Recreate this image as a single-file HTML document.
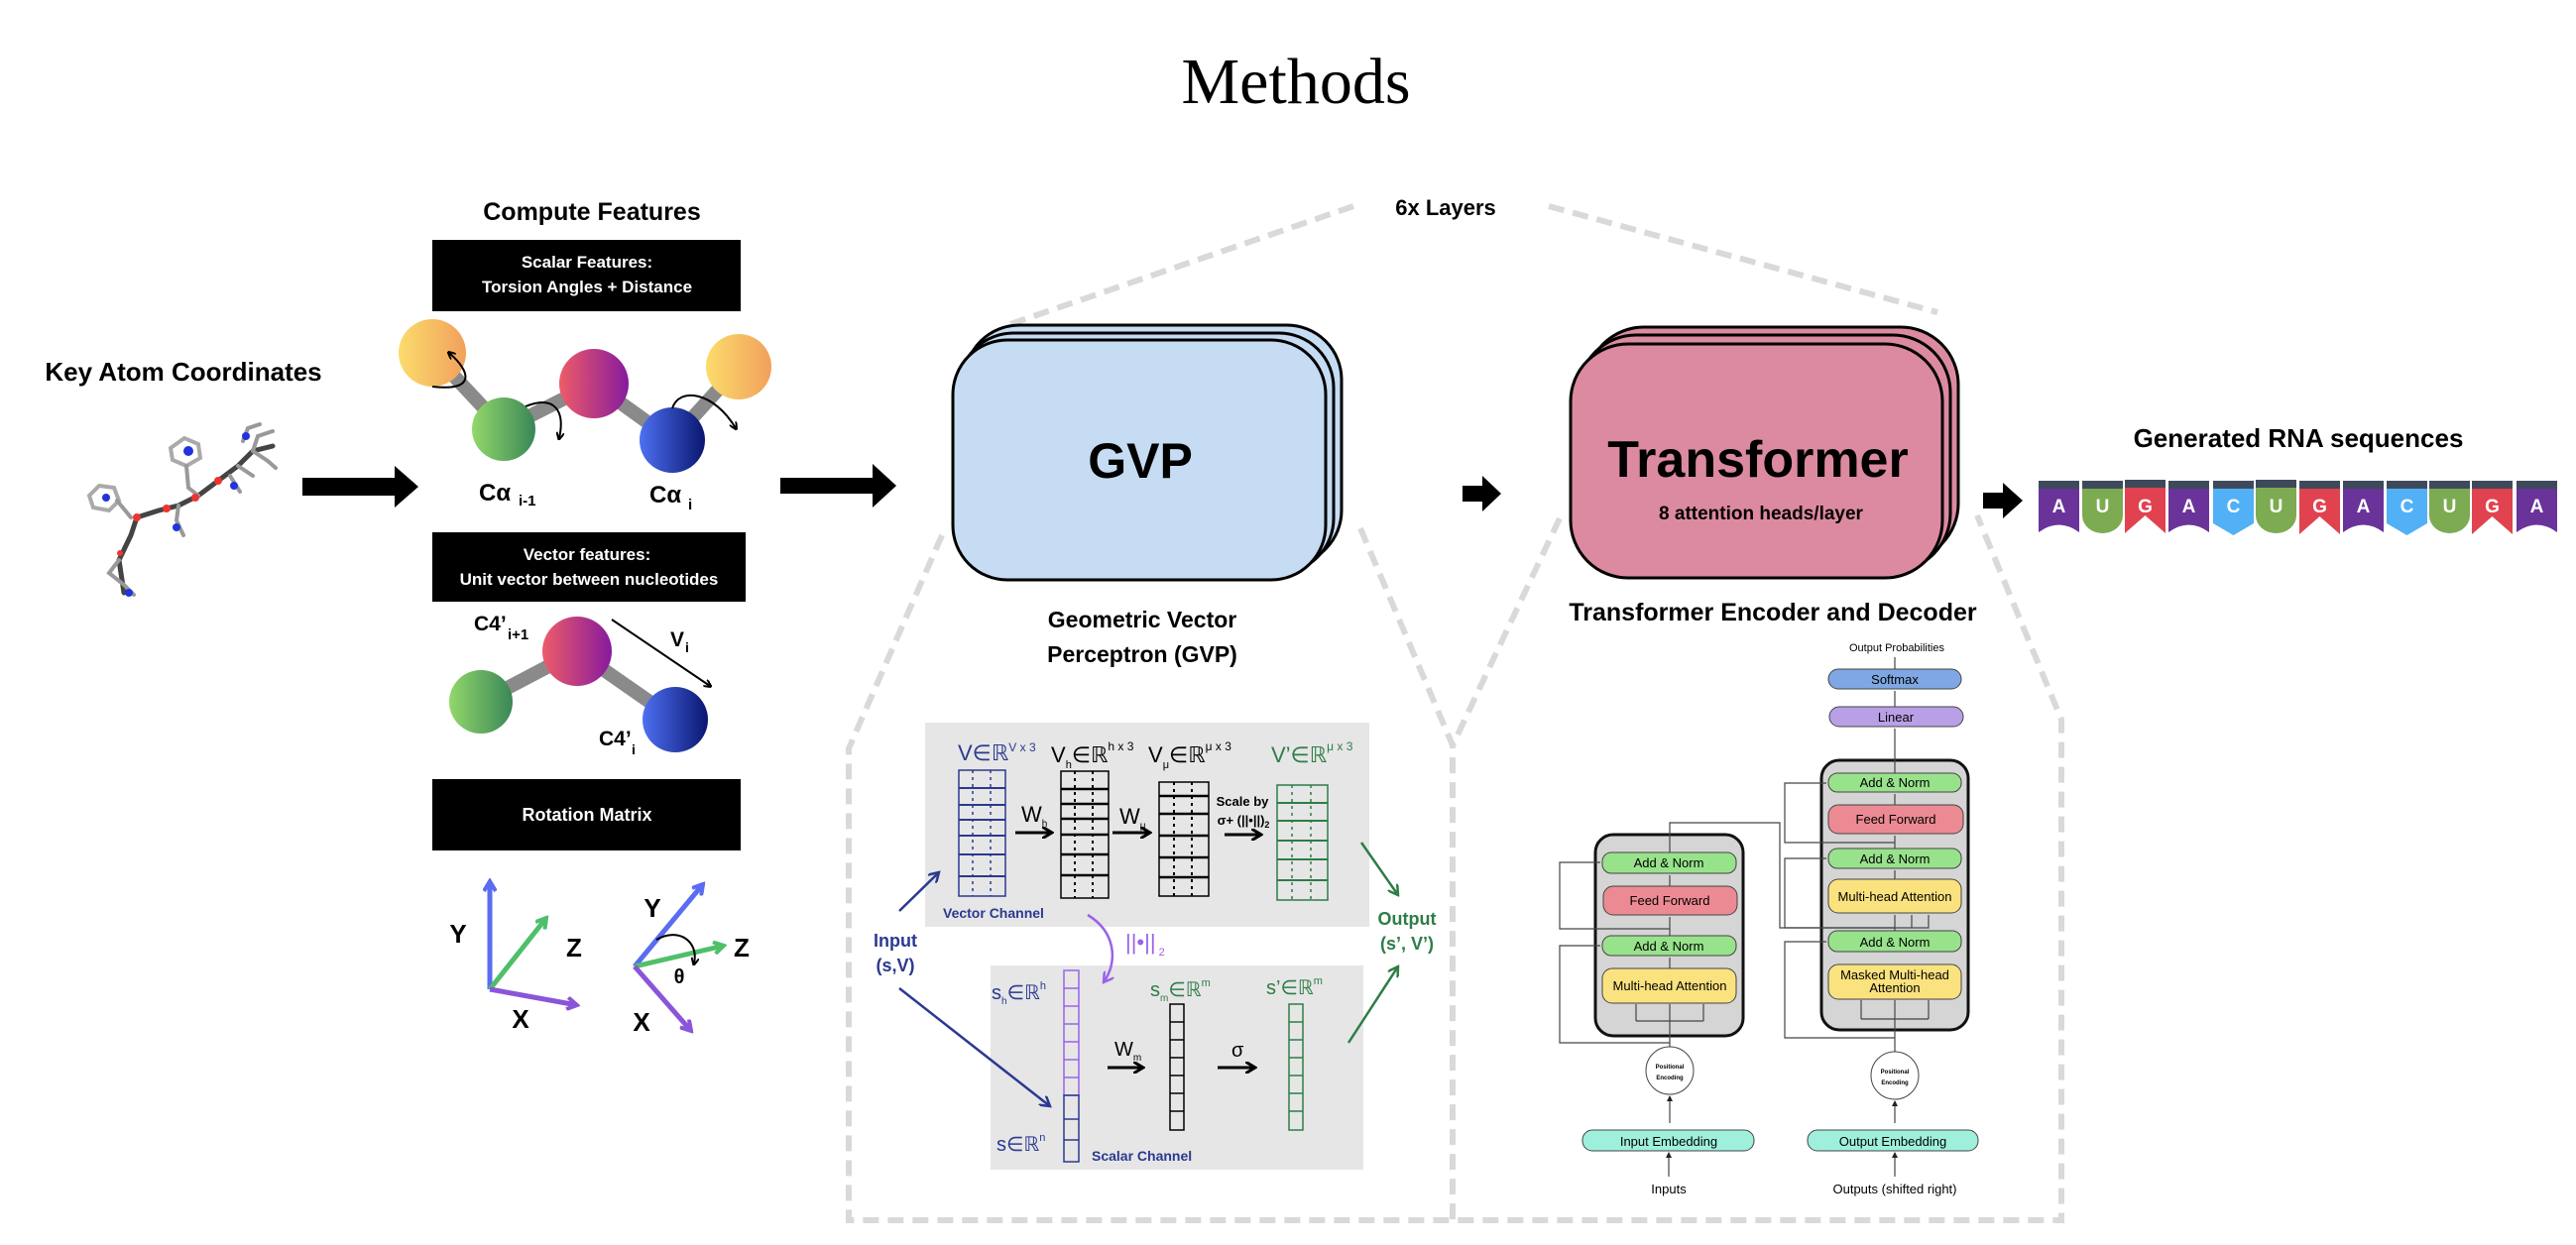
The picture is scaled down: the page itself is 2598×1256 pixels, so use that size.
<!DOCTYPE html>
<html><head><meta charset="utf-8"><style>
html,body{margin:0;padding:0;background:#fff}
svg{display:block}
text{font-family:"Liberation Sans",sans-serif}
.b{font-weight:bold}
.serif{font-family:"Liberation Serif",serif}
</style></head><body>
<svg width="2598" height="1256" viewBox="0 0 2598 1256" xmlns="http://www.w3.org/2000/svg">
<defs>
<linearGradient id="gO" x1="0" x2="1"><stop offset="0" stop-color="#fbdc6c"/><stop offset="1" stop-color="#f2a05c"/></linearGradient>
<linearGradient id="gG" x1="0" x2="1"><stop offset="0" stop-color="#92d86a"/><stop offset="1" stop-color="#3a8658"/></linearGradient>
<linearGradient id="gM" x1="0" x2="1"><stop offset="0" stop-color="#ee5c68"/><stop offset="1" stop-color="#861a9e"/></linearGradient>
<linearGradient id="gB" x1="0" x2="1"><stop offset="0" stop-color="#4e70f2"/><stop offset="1" stop-color="#0a1670"/></linearGradient>
<marker id="ah" markerWidth="8" markerHeight="8" refX="6" refY="4" orient="auto" markerUnits="userSpaceOnUse"><path d="M0,0 L8,4 L0,8" fill="none" stroke="#000" stroke-width="2"/></marker>
<marker id="ahn" markerWidth="12" markerHeight="12" refX="10" refY="6" orient="auto" markerUnits="userSpaceOnUse"><path d="M0,0 L10,6 L0,12" fill="none" stroke="#2b3990" stroke-width="2.5"/></marker>
<marker id="ahg" markerWidth="12" markerHeight="12" refX="10" refY="6" orient="auto" markerUnits="userSpaceOnUse"><path d="M0,0 L10,6 L0,12" fill="none" stroke="#2e7d46" stroke-width="2.5"/></marker>
<marker id="ahp" markerWidth="12" markerHeight="12" refX="10" refY="6" orient="auto" markerUnits="userSpaceOnUse"><path d="M0,0 L10,6 L0,12" fill="none" stroke="#9a63e8" stroke-width="2.5"/></marker>
<marker id="ahk" markerWidth="12" markerHeight="12" refX="10" refY="6" orient="auto" markerUnits="userSpaceOnUse"><path d="M0,0 L10,6 L0,12" fill="none" stroke="#000" stroke-width="3"/></marker>
<marker id="ta" markerWidth="6" markerHeight="6" refX="5" refY="3" orient="auto" markerUnits="userSpaceOnUse"><path d="M0,0 L6,3 L0,6z" fill="#222"/></marker>
<marker id="axB" markerWidth="14" markerHeight="14" refX="11" refY="7" orient="auto" markerUnits="userSpaceOnUse"><path d="M1,1 L11,7 L1,13" fill="none" stroke="#5a6cf2" stroke-width="4"/></marker>
<marker id="axG" markerWidth="14" markerHeight="14" refX="11" refY="7" orient="auto" markerUnits="userSpaceOnUse"><path d="M1,1 L11,7 L1,13" fill="none" stroke="#4fbf6a" stroke-width="4"/></marker>
<marker id="axP" markerWidth="14" markerHeight="14" refX="11" refY="7" orient="auto" markerUnits="userSpaceOnUse"><path d="M1,1 L11,7 L1,13" fill="none" stroke="#8a55d8" stroke-width="4"/></marker>
</defs>

<text x="1307" y="104" text-anchor="middle" class="serif" font-size="66">Methods</text>

<!-- Key atoms -->
<text x="185" y="384" text-anchor="middle" class="b" font-size="26">Key Atom Coordinates</text>
<g stroke-linecap="round" fill="none">
<path d="M125,598 L120,565 L132,540 L138,522 L160,515 L180,510 L200,500 L220,485 L240,470 L255,455 L275,450" stroke="#444" stroke-width="5"/>
<path d="M90,500 L100,490 L115,492 L120,505 L110,515 L94,512Z" stroke="#aaa" stroke-width="4"/>
<path d="M172,452 L186,442 L200,448 L202,462 L188,470 L174,464Z" stroke="#aaa" stroke-width="4"/>
<path d="M118,505 L132,522 M188,470 L190,492 L200,500 M120,565 L110,578 L125,590 L135,600 M240,470 L255,480 M255,455 L260,440 L275,435 M245,445 L250,432 L262,428 M180,510 L178,525 L185,540 M255,455 L270,465 L278,472 M232,480 L242,496"/>
</g>
<g stroke="#999" stroke-width="4" fill="none" stroke-linecap="round"><path d="M118,505 L132,522 M188,470 L190,492 L200,500 M120,565 L110,578 L125,590 L135,600 M240,470 L255,480 M255,455 L260,440 L275,435 M245,445 L250,432 L262,428 M180,510 L178,525 L185,540 M255,455 L270,465 L278,472 M232,480 L242,496"/></g>
<g><circle cx="138" cy="522" r="4" fill="#e33"/><circle cx="168" cy="513" r="4" fill="#e33"/><circle cx="197" cy="502" r="4" fill="#e33"/><circle cx="220" cy="485" r="4" fill="#e33"/><circle cx="121" cy="558" r="3" fill="#e33"/><circle cx="190" cy="455" r="5" fill="#23d"/><circle cx="107" cy="502" r="4" fill="#23d"/><circle cx="130" cy="598" r="4" fill="#23d"/><circle cx="178" cy="532" r="4" fill="#23d"/><circle cx="248" cy="440" r="4" fill="#23d"/><circle cx="236" cy="490" r="4" fill="#23d"/></g>
<path d="M305,482 L398,482 L398,470 L422,491 L398,512 L398,500 L305,500Z" fill="#000"/>

<!-- Compute features -->
<text x="597" y="222" text-anchor="middle" class="b" font-size="25">Compute Features</text>
<rect x="436" y="242" width="311" height="72" fill="#000"/>
<text x="592" y="270" text-anchor="middle" class="b" font-size="17" fill="#fff">Scalar Features:</text>
<text x="592" y="295" text-anchor="middle" class="b" font-size="17" fill="#fff">Torsion Angles + Distance</text>
<g stroke="#8a8a8a" stroke-width="14"><line x1="436" y1="356" x2="508" y2="433"/><line x1="508" y1="433" x2="599" y2="387"/><line x1="599" y1="387" x2="678" y2="444"/><line x1="678" y1="444" x2="745" y2="370"/></g>
<ellipse cx="436" cy="356" rx="34" ry="34" fill="url(#gO)"/>
<ellipse cx="508" cy="433" rx="32" ry="32" fill="url(#gG)"/>
<ellipse cx="599" cy="387" rx="35" ry="35" fill="url(#gM)"/>
<ellipse cx="678" cy="444" rx="33" ry="33" fill="url(#gB)"/>
<ellipse cx="745" cy="370" rx="33" ry="33" fill="url(#gO)"/>
<g fill="none" stroke="#000" stroke-width="2"><path d="M436,390 C480,395 475,375 453,356" marker-end="url(#ah)"/><path d="M530,410 C560,398 570,415 564,442" marker-end="url(#ah)"/><path d="M678,412 C685,390 720,395 742,432" marker-end="url(#ah)"/></g>
<text x="483" y="505" class="b" font-size="24">Cα</text><text x="523" y="510" class="b" font-size="15">i-1</text>
<text x="655" y="507" class="b" font-size="24">Cα</text><text x="694" y="514" class="b" font-size="15">i</text>

<rect x="436" y="537" width="316" height="70" fill="#000"/>
<text x="592" y="565" text-anchor="middle" class="b" font-size="17" fill="#fff">Vector features:</text>
<text x="594" y="590" text-anchor="middle" class="b" font-size="17" fill="#fff">Unit vector between nucleotides</text>
<g stroke="#8a8a8a" stroke-width="14"><line x1="485" y1="708" x2="582" y2="657"/><line x1="582" y1="657" x2="681" y2="726"/></g>
<ellipse cx="485" cy="708" rx="32" ry="32" fill="url(#gG)"/>
<ellipse cx="582" cy="657" rx="35" ry="35" fill="url(#gM)"/>
<ellipse cx="681" cy="726" rx="33" ry="33" fill="url(#gB)"/>
<line x1="617" y1="625" x2="716" y2="692" stroke="#000" stroke-width="2" marker-end="url(#ah)"/>
<text x="478" y="636" class="b" font-size="21">C4’</text><text x="512" y="645" class="b" font-size="15">i+1</text>
<text x="676" y="652" class="b" font-size="21">V</text><text x="691" y="658" class="b" font-size="14">i</text>
<text x="604" y="752" class="b" font-size="21">C4’</text><text x="637" y="761" class="b" font-size="14">i</text>

<rect x="436" y="786" width="311" height="72" fill="#000"/>
<text x="592" y="828" text-anchor="middle" class="b" font-size="18" fill="#fff">Rotation Matrix</text>
<g stroke-width="5" fill="none">
<line x1="494" y1="998" x2="494" y2="889" stroke="#5a6cf2" marker-end="url(#axB)"/>
<line x1="494" y1="998" x2="551" y2="926" stroke="#4fbf6a" marker-end="url(#axG)"/>
<line x1="494" y1="998" x2="582" y2="1014" stroke="#8a55d8" marker-end="url(#axP)"/>
<line x1="640" y1="975" x2="709" y2="892" stroke="#5a6cf2" marker-end="url(#axB)"/>
<line x1="640" y1="975" x2="730" y2="954" stroke="#4fbf6a" marker-end="url(#axG)"/>
<line x1="640" y1="975" x2="697" y2="1040" stroke="#8a55d8" marker-end="url(#axP)"/>
</g>
<path d="M662,948 C685,935 705,950 700,972" fill="none" stroke="#000" stroke-width="2" marker-end="url(#ah)"/>
<g font-size="26"><text x="462" y="951" text-anchor="middle" class="b">Y</text><text x="579" y="965" text-anchor="middle" class="b">Z</text><text x="525" y="1037" text-anchor="middle" class="b">X</text><text x="658" y="925" text-anchor="middle" class="b">Y</text><text x="748" y="965" text-anchor="middle" class="b">Z</text><text x="647" y="1040" text-anchor="middle" class="b">X</text><text x="685" y="992" text-anchor="middle" class="b" font-size="20">θ</text></g>

<!-- arrows -->
<path d="M787,482 L880,482 L880,468 L904,490 L880,512 L880,498 L787,498Z" fill="#000"/>
<path d="M1475,490 L1495,490 L1495,480 L1514,498 L1495,516 L1495,506 L1475,506Z" fill="#000"/>
<path d="M2000,497 L2020,497 L2020,487 L2040,505 L2020,523 L2020,513 L2000,513Z" fill="#000"/>

<!-- dashed frames -->
<g stroke="#d9d9d9" stroke-width="6" stroke-dasharray="16 9" fill="none">
<line x1="1019" y1="327" x2="1365" y2="208"/>
<line x1="1562" y1="208" x2="1954" y2="315"/>
<path d="M950,540 L856,755 L856,1231 L2079,1231 L2079,726 L1994,520"/>
<path d="M1372,533 L1465,752 L1465,1231"/>
<line x1="1573" y1="523" x2="1465" y2="752"/>
</g>
<text x="1458" y="217" text-anchor="middle" class="b" font-size="22">6x Layers</text>

<!-- GVP stack -->
<g stroke="#000" stroke-width="3" fill="#c5dcf3">
<rect x="973" y="328" width="380" height="242" rx="55"/>
<rect x="967" y="336" width="378" height="242" rx="55"/>
<rect x="961" y="343" width="376" height="242" rx="55"/>
</g>
<text x="1150" y="482" text-anchor="middle" class="b" font-size="50">GVP</text>
<text x="1152" y="633" text-anchor="middle" class="b" font-size="23">Geometric Vector</text>
<text x="1152" y="668" text-anchor="middle" class="b" font-size="23">Perceptron (GVP)</text>

<!-- Transformer stack -->
<g stroke="#000" stroke-width="3" fill="#dc8aa0">
<rect x="1600" y="330" width="375" height="236" rx="58"/>
<rect x="1592" y="338" width="375" height="238" rx="58"/>
<rect x="1584" y="347" width="375" height="236" rx="58"/>
</g>
<text x="1773" y="481" text-anchor="middle" class="b" font-size="52">Transformer</text>
<text x="1776" y="524" text-anchor="middle" class="b" font-size="19">8 attention heads/layer</text>
<text x="1788" y="626" text-anchor="middle" class="b" font-size="25">Transformer Encoder and Decoder</text>

<!-- RNA -->
<text x="2318" y="451" text-anchor="middle" class="b" font-size="26">Generated RNA sequences</text>
<g font-size="19" class="b" text-anchor="middle" fill="#fff">
<g transform="translate(2056,0)"><rect y="485" width="41" height="8" fill="#3e4a5c"/><path d="M0,493 H41 V537 Q20.5,522 0,537Z" fill="#6a3399"/><text x="20.5" y="517" fill="#fff" class="b">A</text></g>
<g transform="translate(2100,0)"><rect y="485" width="41" height="8" fill="#3e4a5c"/><path d="M0,493 H41 V520 A20.5,18 0 0 1 0,520Z" fill="#7cab52"/><text x="20.5" y="517" fill="#fff" class="b">U</text></g>
<g transform="translate(2143,0)"><rect y="484" width="41" height="8" fill="#3e4a5c"/><path d="M0,492 H41 V538 L20.5,520 L0,538Z" fill="#e0434f"/><text x="20.5" y="517" fill="#fff" class="b">G</text></g>
<g transform="translate(2187,0)"><rect y="485" width="41" height="8" fill="#3e4a5c"/><path d="M0,493 H41 V537 Q20.5,522 0,537Z" fill="#6a3399"/><text x="20.5" y="517" fill="#fff" class="b">A</text></g>
<g transform="translate(2232,0)"><rect y="485" width="41" height="8" fill="#3e4a5c"/><path d="M0,493 H41 V528 L20.5,540 L0,528Z" fill="#52b0f6"/><text x="20.5" y="517" fill="#fff" class="b">C</text></g>
<g transform="translate(2275,0)"><rect y="484" width="41" height="8" fill="#3e4a5c"/><path d="M0,492 H41 V520 A20.5,18 0 0 1 0,520Z" fill="#7cab52"/><text x="20.5" y="517" fill="#fff" class="b">U</text></g>
<g transform="translate(2319,0)"><rect y="485" width="41" height="8" fill="#3e4a5c"/><path d="M0,493 H41 V539 L20.5,521 L0,539Z" fill="#e0434f"/><text x="20.5" y="517" fill="#fff" class="b">G</text></g>
<g transform="translate(2363,0)"><rect y="485" width="41" height="8" fill="#3e4a5c"/><path d="M0,493 H41 V537 Q20.5,522 0,537Z" fill="#6a3399"/><text x="20.5" y="517" fill="#fff" class="b">A</text></g>
<g transform="translate(2407,0)"><rect y="485" width="41" height="8" fill="#3e4a5c"/><path d="M0,493 H41 V528 L20.5,540 L0,528Z" fill="#52b0f6"/><text x="20.5" y="517" fill="#fff" class="b">C</text></g>
<g transform="translate(2450,0)"><rect y="485" width="41" height="8" fill="#3e4a5c"/><path d="M0,493 H41 V520 A20.5,18 0 0 1 0,520Z" fill="#7cab52"/><text x="20.5" y="517" fill="#fff" class="b">U</text></g>
<g transform="translate(2493,0)"><rect y="485" width="41" height="8" fill="#3e4a5c"/><path d="M0,493 H41 V539 L20.5,521 L0,539Z" fill="#e0434f"/><text x="20.5" y="517" fill="#fff" class="b">G</text></g>
<g transform="translate(2538,0)"><rect y="485" width="41" height="8" fill="#3e4a5c"/><path d="M0,493 H41 V537 Q20.5,522 0,537Z" fill="#6a3399"/><text x="20.5" y="517" fill="#fff" class="b">A</text></g>
</g>

<!-- GVP inner -->
<rect x="933" y="729" width="448" height="206" fill="#e6e6e6"/>
<rect x="999" y="974" width="376" height="206" fill="#e6e6e6"/>
<g font-size="22">
<text x="966" y="767" fill="#2b3990">V∈ℝ<tspan font-size="12" dy="-9">V x 3</tspan></text>
<text x="1060" y="769" fill="#000">V<tspan font-size="11" dy="6">h</tspan><tspan dy="-6">∈ℝ</tspan><tspan font-size="12" dy="-12">h x 3</tspan></text>
<text x="1158" y="769" fill="#000">V<tspan font-size="11" dy="6">μ</tspan><tspan dy="-6">∈ℝ</tspan><tspan font-size="12" dy="-12">μ x 3</tspan></text>
<text x="1282" y="769" fill="#2e7d46">V’∈ℝ<tspan font-size="12" dy="-12">μ x 3</tspan></text>
</g>
<g fill="none">
<g stroke="#2b3990" stroke-width="1.5"><rect x="967" y="777" width="47" height="127"/><path d="M967,795H1014M967,812H1014M967,827H1014M967,843H1014M967,862H1014M967,884H1014" stroke-width="2"/><path d="M981,777V904M999,777V904" stroke-dasharray="3 4"/></g>
<g stroke="#000" stroke-width="1.5"><rect x="1070" y="778" width="48" height="128"/><path d="M1070,796H1118M1070,811H1118M1070,826H1118M1070,842H1118M1070,862H1118M1070,883H1118" stroke-width="2.5"/><path d="M1084,778V906M1102,778V906" stroke-dasharray="3 4" stroke-width="2"/></g>
<g stroke="#000" stroke-width="1.5"><rect x="1169" y="789" width="50" height="115"/><path d="M1169,803H1219M1169,821H1219M1169,843H1219M1169,865H1219M1169,885H1219" stroke-width="2.5"/><path d="M1184,789V904M1202,789V904" stroke-dasharray="3 4" stroke-width="2"/></g>
<g stroke="#2e7d46" stroke-width="1.5"><rect x="1288" y="792" width="51" height="116"/><path d="M1288,810H1339M1288,828H1339M1288,848H1339M1288,867H1339M1288,888H1339" stroke-width="2"/><path d="M1303,792V908M1322,792V908" stroke-dasharray="3 4"/></g>
</g>
<g font-size="22"><text x="1030" y="829">W<tspan font-size="10" dy="5">h</tspan></text><text x="1129" y="831">W<tspan font-size="10" dy="5">μ</tspan></text></g>
<text x="1253" y="813" text-anchor="middle" class="b" font-size="13">Scale by</text>
<text x="1254" y="832" text-anchor="middle" class="b" font-size="13">σ+ (||•||)<tspan font-size="9" dy="3">2</tspan></text>
<g stroke="#000" stroke-width="3" fill="none"><line x1="1024" y1="840" x2="1061" y2="840" marker-end="url(#ahk)"/><line x1="1122" y1="840" x2="1160" y2="840" marker-end="url(#ahk)"/><line x1="1235" y1="842" x2="1272" y2="842" marker-end="url(#ahk)"/><line x1="1117" y1="1077" x2="1153" y2="1077" marker-end="url(#ahk)"/><line x1="1228" y1="1077" x2="1266" y2="1077" marker-end="url(#ahk)"/></g>
<text x="951" y="926" class="b" font-size="14" fill="#2b3990">Vector Channel</text>
<text x="1101" y="1171" class="b" font-size="14" fill="#2b3990">Scalar Channel</text>
<text x="903" y="955" text-anchor="middle" class="b" font-size="18" fill="#2b3990">Input</text>
<text x="903" y="980" text-anchor="middle" class="b" font-size="18" fill="#2b3990">(s,V)</text>
<text x="1419" y="933" text-anchor="middle" class="b" font-size="18" fill="#2e7d46">Output</text>
<text x="1419" y="958" text-anchor="middle" class="b" font-size="18" fill="#2e7d46">(s’, V’)</text>
<g fill="none" stroke-width="2.5">
<line x1="907" y1="919" x2="947" y2="880" stroke="#2b3990" marker-end="url(#ahn)"/>
<line x1="907" y1="997" x2="1059" y2="1116" stroke="#2b3990" marker-end="url(#ahn)"/>
<line x1="1373" y1="850" x2="1410" y2="903" stroke="#2e7d46" marker-end="url(#ahg)"/>
<line x1="1360" y1="1052" x2="1410" y2="975" stroke="#2e7d46" marker-end="url(#ahg)"/>
<path d="M1097,923 C1125,940 1128,970 1113,991" stroke="#9a63e8" marker-end="url(#ahp)"/>
</g>
<text x="1135" y="958" font-size="22" fill="#9a63e8">||•||<tspan font-size="11" dy="6"> 2</tspan></text>
<g fill="none">
<g stroke="#9a63e8" stroke-width="1.5"><rect x="1073" y="979" width="15" height="126"/><path d="M1073,997H1088M1073,1015H1088M1073,1033H1088M1073,1051H1088M1073,1069H1088M1073,1087H1088"/></g>
<g stroke="#2b3990" stroke-width="1.5"><rect x="1073" y="1105" width="15" height="67"/><path d="M1073,1129H1088M1073,1150H1088"/></g>
<g stroke="#000" stroke-width="1.5"><rect x="1180" y="1013" width="14" height="127"/><path d="M1180,1031H1194M1180,1049H1194M1180,1067H1194M1180,1085H1194M1180,1103H1194M1180,1121H1194"/></g>
<g stroke="#2e7d46" stroke-width="1.5"><rect x="1300" y="1013" width="14" height="127"/><path d="M1300,1031H1314M1300,1049H1314M1300,1067H1314M1300,1085H1314M1300,1103H1314M1300,1121H1314"/></g>
</g>
<g font-size="20">
<text x="1000" y="1008" fill="#2b3990">s<tspan font-size="10" dy="5">h</tspan><tspan dy="-5">∈ℝ</tspan><tspan font-size="11" dy="-10">h</tspan></text>
<text x="1005" y="1161" fill="#2b3990">s∈ℝ<tspan font-size="11" dy="-10">n</tspan></text>
<text x="1160" y="1005" fill="#2e7d46">s<tspan font-size="10" dy="5">m</tspan><tspan dy="-5">∈ℝ</tspan><tspan font-size="11" dy="-10">m</tspan></text>
<text x="1277" y="1003" fill="#2e7d46">s’∈ℝ<tspan font-size="11" dy="-10">m</tspan></text>
<text x="1124" y="1065">W<tspan font-size="10" dy="5">m</tspan></text>
<text x="1242" y="1066">σ</text>
</g>

<!-- Transformer diagram -->
<g font-family="Liberation Serif,serif" text-anchor="middle" font-size="13">
<text x="1913" y="657" font-size="11" font-family="Liberation Serif,serif">Output Probabilities</text>
<rect x="1837" y="767" width="148" height="272" rx="18" fill="#d5d5d5" stroke="#111" stroke-width="3"/>
<rect x="1609" y="842" width="149" height="203" rx="18" fill="#d5d5d5" stroke="#111" stroke-width="3"/>
<g stroke="#444" stroke-width="1">
<rect x="1844" y="675" width="134" height="20" rx="10" fill="#7fa7e3"/>
<rect x="1845" y="713" width="135" height="20" rx="10" fill="#b9a0e6"/>
<rect x="1844" y="780" width="134" height="19" rx="9" fill="#98e28c"/>
<rect x="1844" y="812" width="136" height="29" rx="10" fill="#ec8a93"/>
<rect x="1844" y="856" width="134" height="20" rx="9" fill="#98e28c"/>
<rect x="1844" y="887" width="134" height="34" rx="10" fill="#fae27f"/>
<rect x="1844" y="939" width="134" height="21" rx="9" fill="#98e28c"/>
<rect x="1844" y="973" width="134" height="35" rx="10" fill="#fae27f"/>
<rect x="1616" y="860" width="135" height="21" rx="9" fill="#98e28c"/>
<rect x="1617" y="894" width="135" height="29" rx="10" fill="#ec8a93"/>
<rect x="1616" y="944" width="135" height="20" rx="9" fill="#98e28c"/>
<rect x="1616" y="977" width="135" height="35" rx="10" fill="#fae27f"/>
<rect x="1596" y="1140" width="173" height="21" rx="10" fill="#9ef0dc"/>
<rect x="1823" y="1140" width="172" height="21" rx="10" fill="#9ef0dc"/>
<circle cx="1684" cy="1080" r="24" fill="#fff"/>
<circle cx="1911" cy="1085" r="24" fill="#fff"/>
</g>
<text x="1911" y="690">Softmax</text><text x="1912" y="728">Linear</text>
<text x="1911" y="794">Add &amp; Norm</text><text x="1912" y="831">Feed Forward</text>
<text x="1911" y="871">Add &amp; Norm</text><text x="1911" y="909">Multi-head Attention</text>
<text x="1911" y="955">Add &amp; Norm</text><text x="1911" y="988">Masked Multi-head</text><text x="1911" y="1001">Attention</text>
<text x="1683" y="875">Add &amp; Norm</text><text x="1684" y="913">Feed Forward</text>
<text x="1683" y="959">Add &amp; Norm</text><text x="1684" y="999">Multi-head Attention</text>
<text x="1683" y="1156">Input Embedding</text><text x="1909" y="1156">Output Embedding</text>
<text x="1683" y="1204">Inputs</text><text x="1911" y="1204">Outputs (shifted right)</text>
<text x="1684" y="1078" font-size="6" font-weight="bold">Positional</text><text x="1684" y="1089" font-size="6" font-weight="bold">Encoding</text>
<text x="1911" y="1083" font-size="6" font-weight="bold">Positional</text><text x="1911" y="1094" font-size="6" font-weight="bold">Encoding</text>
</g>
<g stroke="#444" stroke-width="1.2" fill="none">
<line x1="1683" y1="1187" x2="1683" y2="1163" marker-end="url(#ta)"/>
<line x1="1911" y1="1187" x2="1911" y2="1163" marker-end="url(#ta)"/>
<line x1="1684" y1="1133" x2="1684" y2="1106" marker-end="url(#ta)"/>
<line x1="1911" y1="1133" x2="1911" y2="1111" marker-end="url(#ta)"/>
<path d="M1684,1056 V1030 M1650,1030 H1718 M1650,1030 V1013 M1718,1030 V1013 M1684,1030 V1013"/>
<path d="M1684,1052 H1573 V954 H1614"/>
<path d="M1684,977 V966 M1684,944 V925 M1684,894 V883"/>
<path d="M1684,937 H1573 V870 H1614"/>
<path d="M1684,860 V830 H1795 V936 H1945 V923 M1928,936 V923"/>
<path d="M1911,1061 V1028 M1877,1028 H1945 M1877,1028 V1009 M1945,1028 V1009 M1911,1028 V1009"/>
<path d="M1911,1047 H1800 V950 H1842"/>
<path d="M1911,939 V923 M1911,887 V878 M1911,856 V843 M1911,812 V801 M1911,780 V735 M1911,713 V697 M1911,675 V663"/>
<path d="M1911,936 H1800 V866 H1842"/>
<path d="M1911,850 H1800 V790 H1842"/>
</g>
</svg>
</body></html>
